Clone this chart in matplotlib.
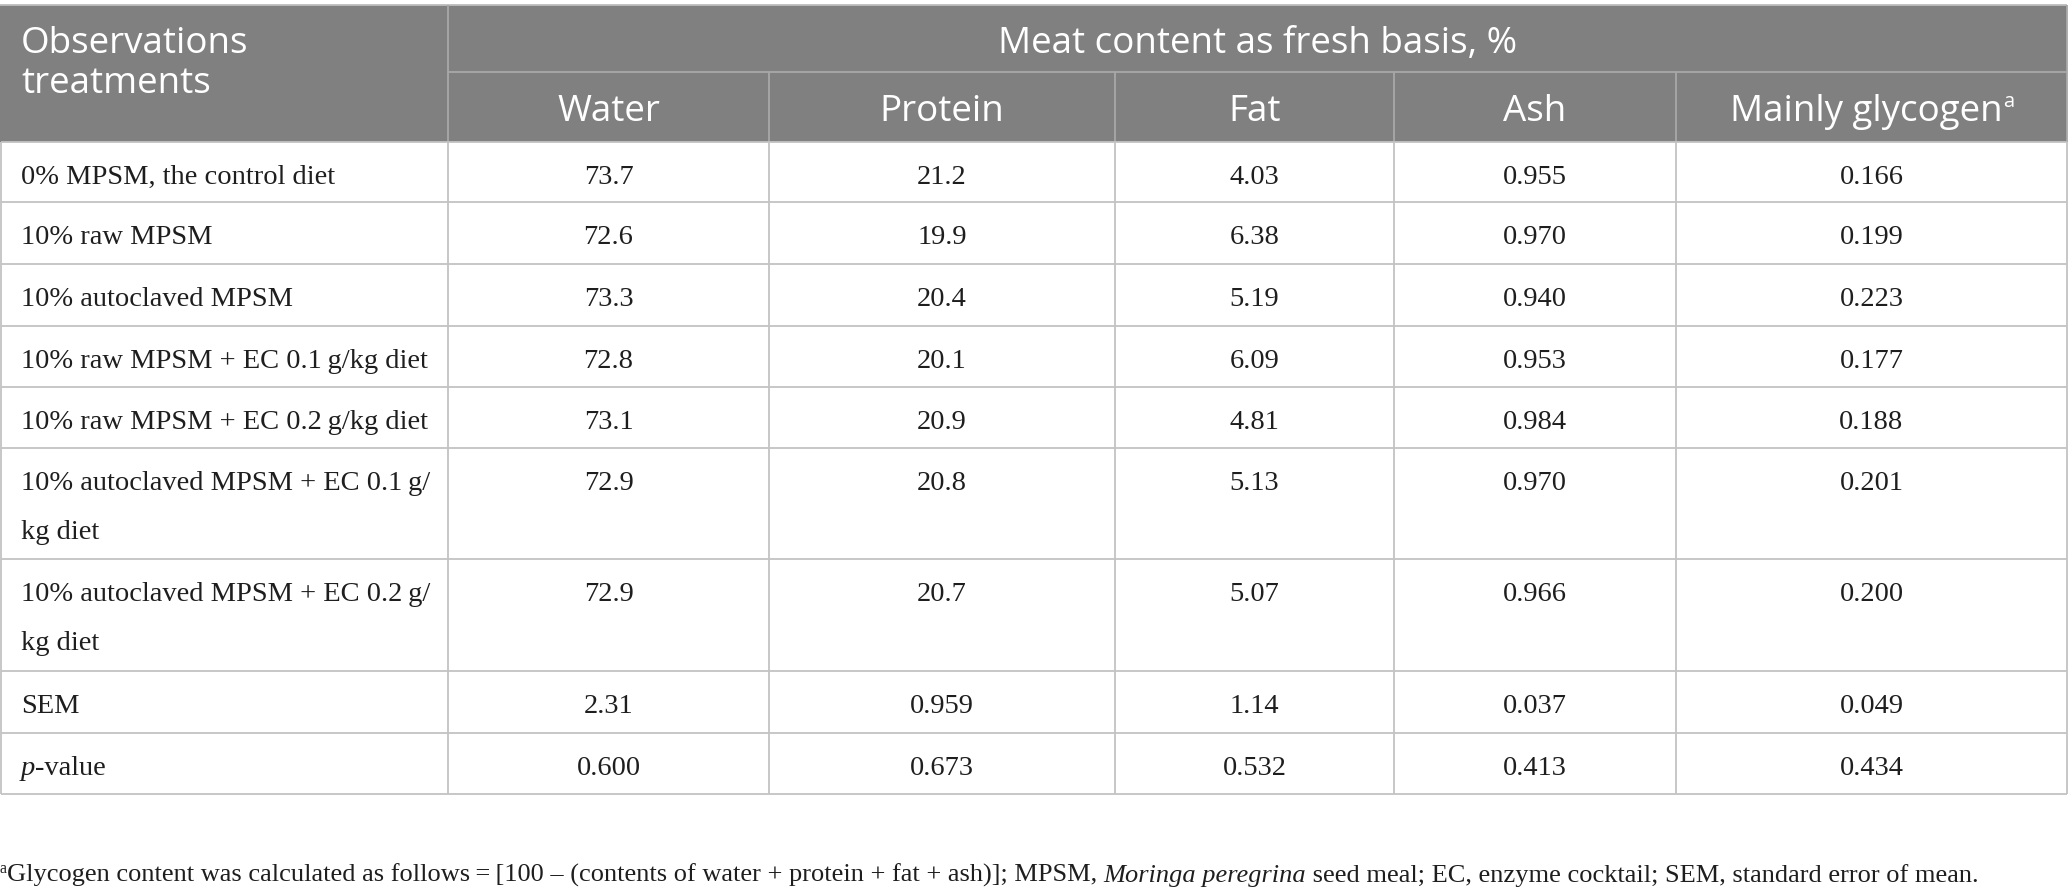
import matplotlib
matplotlib.use("Agg")
import matplotlib.pyplot as plt
from matplotlib.patches import Rectangle

# ---------------- data ----------------
header_group = "Meat content as fresh basis, %"
row_header = ["Observations", "treatments"]
columns = ["Water", "Protein", "Fat", "Ash", "Mainly glycogen"]
column_sup = ["", "", "", "", "a"]

treatments = [
    "0% MPSM, the control diet",
    "10% raw MPSM",
    "10% autoclaved MPSM",
    "10% raw MPSM + EC 0.1\u2009g/kg diet",
    "10% raw MPSM + EC 0.2\u2009g/kg diet",
    "10% autoclaved MPSM + EC 0.1\u2009g/\nkg diet",
    "10% autoclaved MPSM + EC 0.2\u2009g/\nkg diet",
    "SEM",
    "p-value",
]
water = ["73.7", "72.6", "73.3", "72.8", "73.1", "72.9", "72.9", "2.31", "0.600"]
protein = ["21.2", "19.9", "20.4", "20.1", "20.9", "20.8", "20.7", "0.959", "0.673"]
fat = ["4.03", "6.38", "5.19", "6.09", "4.81", "5.13", "5.07", "1.14", "0.532"]
ash = ["0.955", "0.970", "0.940", "0.953", "0.984", "0.970", "0.966", "0.037", "0.413"]
glycogen = ["0.166", "0.199", "0.223", "0.177", "0.188", "0.201", "0.200", "0.049", "0.434"]

footnote_runs = [
    ("a", "sup"),
    ("Glycogen content was calculated as follows\u2009=\u2009[100 \u2013 (contents of water + protein + fat + ash)]; MPSM, ", "normal"),
    ("Moringa peregrina", "italic"),
    (" seed meal; EC, enzyme cocktail; SEM, standard error of mean.", "normal"),
]

# ---------------- layout (pixels) ----------------
W, H = 2068, 896
col_edges = [1, 448, 769, 1115, 1394, 1676, 2067]
head_top, head_mid, head_bot = 4.7, 72, 142
row_edges = [142, 202, 264, 326, 387, 448, 559, 671, 733, 794]

HEAD_BG = "#808080"
HEAD_LINE = "#a8a8a8"
GRID = "#c3c3c3"
TXT = "#1e1e1e"
SERIF = ["Liberation Serif", "DejaVu Serif"]
SANS = ["Open Sans", "DejaVu Sans"]
BODY_FS = 20.5
HEAD_FS = 26.5
FOOT_FS = 19

fig = plt.figure(figsize=(W / 100, H / 100), dpi=100)
ax = fig.add_axes([0, 0, 1, 1])
ax.set_xlim(0, W)
ax.set_ylim(H, 0)
ax.axis("off")
fig.canvas.draw()
renderer = fig.canvas.get_renderer()


def advance(s, **kw):
    t1 = ax.text(0, 0, "H" + s + "H", **kw)
    t2 = ax.text(0, 0, "HH", **kw)
    w = t1.get_window_extent(renderer).width - t2.get_window_extent(renderer).width
    t1.remove()
    t2.remove()
    return w


# header background
ax.add_patch(Rectangle((0, head_top), W - 1, head_bot - head_top, facecolor=HEAD_BG,
                       edgecolor="none", zorder=0))
ax.hlines(head_top, 0, col_edges[-1], color="#bdbdbd", lw=1.3, zorder=2)
ax.hlines(head_mid, col_edges[1], col_edges[-1], color=HEAD_LINE, lw=1.3, zorder=2)
ax.vlines(col_edges[1], head_top, head_bot, color=HEAD_LINE, lw=1.3, zorder=2)
ax.vlines(col_edges[2:-1], head_mid, head_bot, color=HEAD_LINE, lw=1.3, zorder=2)
ax.vlines(col_edges[-1], head_top, head_bot, color=HEAD_LINE, lw=1.3, zorder=2)

# header texts
ax.text(21, 53, row_header[0], family=SANS, fontsize=HEAD_FS, color="white", va="baseline", ha="left")
ax.text(21, 93, row_header[1], family=SANS, fontsize=HEAD_FS, color="white", va="baseline", ha="left")
ax.text((col_edges[1] + col_edges[-1]) / 2, 53, header_group, family=SANS, fontsize=HEAD_FS,
        color="white", va="baseline", ha="center")
for i, (name, sup) in enumerate(zip(columns, column_sup)):
    cx = (col_edges[i + 1] + col_edges[i + 2]) / 2
    if sup:
        wmain = advance(name, family=SANS, fontsize=HEAD_FS)
        wsup = advance(sup, family=SANS, fontsize=HEAD_FS * 0.55)
        x0 = cx - (wmain + wsup) / 2
        ax.text(x0, 121, name, family=SANS, fontsize=HEAD_FS, color="white", va="baseline", ha="left")
        ax.text(x0 + wmain + 1, 107, sup, family=SANS, fontsize=HEAD_FS * 0.55, color="white",
                va="baseline", ha="left")
    else:
        ax.text(cx, 121, name, family=SANS, fontsize=HEAD_FS, color="white", va="baseline", ha="center")

# body grid
ax.hlines(row_edges, col_edges[0], col_edges[-1], color=GRID, lw=1.3, zorder=2)
ax.vlines(col_edges, row_edges[0], row_edges[-1], color=GRID, lw=1.3, zorder=2)

# body texts
value_cols = [water, protein, fat, ash, glycogen]
for r, label in enumerate(treatments):
    base = row_edges[r] + 42
    lines = label.split("\n")
    for k, line in enumerate(lines):
        y = base + 49 * k
        if line == "p-value":
            wp = advance("p", family=SERIF, fontsize=BODY_FS, style="italic")
            ax.text(21, y, "p", family=SERIF, fontsize=BODY_FS, style="italic", color=TXT, va="baseline")
            ax.text(21 + wp, y, "-value", family=SERIF, fontsize=BODY_FS, color=TXT, va="baseline")
        else:
            ax.text(21, y, line, family=SERIF, fontsize=BODY_FS, color=TXT, va="baseline", ha="left")
    for c, vals in enumerate(value_cols):
        cx = (col_edges[c + 1] + col_edges[c + 2]) / 2
        ax.text(cx, base, vals[r], family=SERIF, fontsize=BODY_FS, color=TXT, va="baseline", ha="center")

# footnote
x = 0
yb = 882
for txt, kind in footnote_runs:
    if kind == "sup":
        kw = dict(family=SERIF, fontsize=FOOT_FS * 0.6)
        ax.text(x, yb - 9, txt, color=TXT, va="baseline", ha="left", **kw)
    else:
        kw = dict(family=SERIF, fontsize=FOOT_FS, style="italic" if kind == "italic" else "normal")
        ax.text(x, yb, txt, color=TXT, va="baseline", ha="left", **kw)
    x += advance(txt, **kw)

fig.savefig("out.png", dpi=100, facecolor="white")
